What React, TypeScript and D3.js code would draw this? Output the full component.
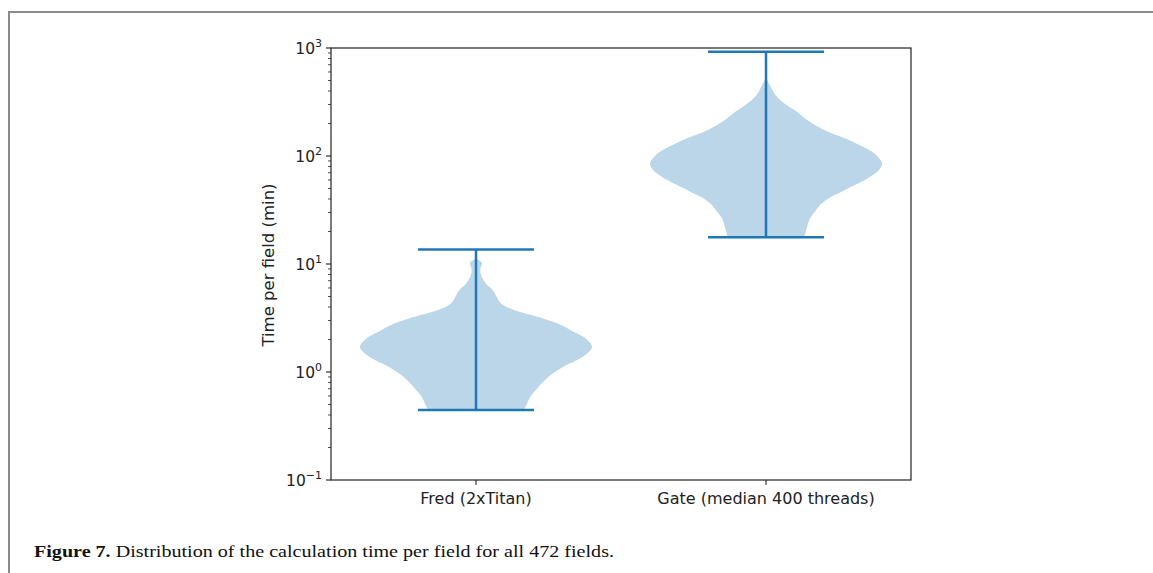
import React, { useEffect, useRef } from 'react';
import * as d3 from 'd3';

// categories and violin profiles (time in minutes, density scaled 0..1)
const categories = ['Fred (2xTitan)', 'Gate (median 400 threads)'];

const fredTimes = [0.445, 0.478, 0.592, 0.731, 0.906, 1.12, 1.29, 1.49, 1.71, 2.05, 2.36, 2.82, 3.25, 3.75, 4.34, 5.0, 5.75, 6.6, 7.6, 8.8, 10.2, 10.8, 11.05];
const fredDensity = [0.41, 0.428, 0.471, 0.54, 0.626, 0.754, 0.871, 0.96, 1.0, 0.943, 0.84, 0.70, 0.529, 0.326, 0.214, 0.177, 0.143, 0.086, 0.05, 0.037, 0.052, 0.03, 0];
const fredExtent = [0.445, 13.6];

const gateTimes = [17.7, 21.4, 26.5, 30.5, 35.2, 40.5, 46.7, 53.8, 62.2, 74.2, 85.6, 95.2, 110, 126, 146, 168, 194, 223, 257, 297, 342, 394, 454, 500, 540];
const gateDensity = [0.33, 0.351, 0.379, 0.422, 0.466, 0.537, 0.652, 0.767, 0.879, 0.974, 1.0, 0.974, 0.911, 0.81, 0.681, 0.534, 0.422, 0.336, 0.265, 0.178, 0.106, 0.063, 0.034, 0.012, 0];
const gateExtent = [17.7, 924];

const yExponents = [-1, 0, 1, 2, 3];
const caption = 'Distribution of the calculation time per field for all 472 fields.';

const W = 1153;
const H = 573;
const margin = { left: 331, right: 911, top: 48, bottom: 480 };
const blue = '#1f77b4';
const tickFont = 'DejaVu Sans, sans-serif';

const App = () => {
    const svgRef = useRef<SVGSVGElement>(null);

    useEffect(() => {
        const svg = d3.select(svgRef.current);
        svg.selectAll('*').remove();

        const x = d3.scaleLinear().domain([0.5, 2.5]).range([margin.left, margin.right]);
        const y = d3.scaleLog().domain([0.1, 1000]).range([margin.bottom, margin.top]);

        // page border (left + top, grey)
        svg.append('path')
            .attr('d', `M9,${H} V12 H${W}`)
            .attr('fill', 'none')
            .attr('stroke', '#8c8c8c')
            .attr('stroke-width', 2);

        const violins = [
            { pos: 1, times: fredTimes, dens: fredDensity, ext: fredExtent },
            { pos: 2, times: gateTimes, dens: gateDensity, ext: gateExtent },
        ];

        const halfWidth = 0.4;
        const capHalf = 0.2;

        violins.forEach((v) => {
            const pts: [number, number][] = v.times.map((t, i) => [t, v.dens[i]]);
            const area = d3.area<[number, number]>()
                .y((d) => y(d[0]))
                .x0((d) => x(v.pos - halfWidth * d[1]))
                .x1((d) => x(v.pos + halfWidth * d[1]))
                .curve(d3.curveCatmullRom);

            svg.append('path')
                .datum(pts)
                .attr('d', area)
                .attr('fill', blue)
                .attr('fill-opacity', 0.3);
        });

        violins.forEach((v) => {
            svg.append('line')
                .attr('x1', x(v.pos)).attr('x2', x(v.pos))
                .attr('y1', y(v.ext[0])).attr('y2', y(v.ext[1]))
                .attr('stroke', blue).attr('stroke-width', 2.5);
            v.ext.forEach((e) => {
                svg.append('line')
                    .attr('x1', x(v.pos - capHalf)).attr('x2', x(v.pos + capHalf))
                    .attr('y1', y(e)).attr('y2', y(e))
                    .attr('stroke', blue).attr('stroke-width', 2.5);
            });
        });

        // frame
        svg.append('rect')
            .attr('x', margin.left).attr('y', margin.top)
            .attr('width', margin.right - margin.left)
            .attr('height', margin.bottom - margin.top)
            .attr('fill', 'none')
            .attr('stroke', '#222')
            .attr('stroke-width', 1.2);

        // y ticks
        const minor: number[] = [];
        yExponents.slice(0, -1).forEach((e) => {
            for (let k = 2; k <= 9; k++) minor.push(k * Math.pow(10, e));
        });
        svg.selectAll('.minor').data(minor).enter().append('line')
            .attr('x1', margin.left - 3).attr('x2', margin.left)
            .attr('y1', (d) => y(d)).attr('y2', (d) => y(d))
            .attr('stroke', '#222').attr('stroke-width', 0.8);

        yExponents.forEach((e) => {
            const yy = y(Math.pow(10, e));
            svg.append('line')
                .attr('x1', margin.left - 5).attr('x2', margin.left)
                .attr('y1', yy).attr('y2', yy)
                .attr('stroke', '#222').attr('stroke-width', 1.1);
            const t = svg.append('text')
                .attr('x', margin.left - 9)
                .attr('y', yy + 5.5)
                .attr('text-anchor', 'end')
                .attr('font-family', tickFont)
                .attr('font-size', 15.5)
                .attr('fill', '#222');
            t.append('tspan').text('10');
            t.append('tspan')
                .attr('dy', -7)
                .attr('font-size', 11)
                .text(e < 0 ? '\u2212' + Math.abs(e) : String(e));
        });

        // x ticks
        categories.forEach((c, i) => {
            const xx = x(i + 1);
            svg.append('line')
                .attr('x1', xx).attr('x2', xx)
                .attr('y1', margin.bottom).attr('y2', margin.bottom + 5)
                .attr('stroke', '#222').attr('stroke-width', 1.1);
            svg.append('text')
                .attr('x', xx).attr('y', 504)
                .attr('text-anchor', 'middle')
                .attr('font-family', tickFont)
                .attr('font-size', 16)
                .attr('fill', '#222')
                .text(c);
        });

        svg.append('text')
            .attr('transform', 'translate(274,265) rotate(-90)')
            .attr('text-anchor', 'middle')
            .attr('font-family', tickFont)
            .attr('font-size', 16.5)
            .attr('fill', '#222')
            .text('Time per field (min)');

        // caption
        const cap = svg.append('text')
            .attr('x', 34).attr('y', 557)
            .attr('font-family', 'Liberation Serif, serif')
            .attr('font-size', 17)
            .attr('fill', '#111')
            .attr('textLength', 580)
            .attr('lengthAdjust', 'spacingAndGlyphs');
        cap.append('tspan').attr('font-weight', 'bold').text('Figure 7.');
        cap.append('tspan').text(' ' + caption);
    }, []);

    return (
        <svg ref={svgRef} width={W} height={H}
            style={{ position: 'absolute', left: 0, top: 0, background: '#fff' }} />
    );
};

export default App;
